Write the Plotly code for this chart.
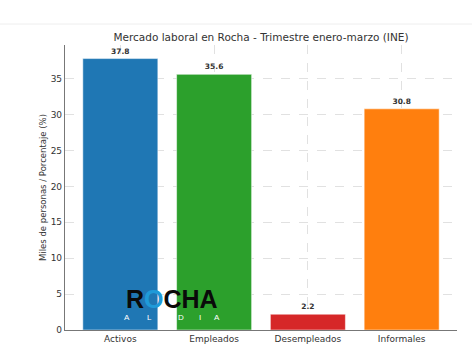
import plotly.graph_objects as go

categories = ["Activos", "Empleados", "Desempleados", "Informales"]
values = [37.8, 35.6, 2.2, 30.8]
colors = ["#1f77b4", "#2ca02c", "#d62728", "#ff7f0e"]
value_labels = [f"{v:.1f}" for v in values]
title_text = "Mercado laboral en Rocha - Trimestre enero-marzo (INE)"
y_title = "Miles de personas / Porcentaje (%)"
y_ticks = [0, 5, 10, 15, 20, 25, 30, 35]
logo_sub_letters = ["A", "L", "D", "I", "A"]

FONT = "DejaVu Sans"
L, R, T, B = 65, 15, 45, 21
PW, PH = 472 - L - R, 351 - T - B

fig = go.Figure()
fig.add_trace(go.Bar(
    x=list(range(len(categories))), y=values,
    marker=dict(color=colors, line=dict(color="rgba(255,255,255,0.5)", width=1)),
    width=0.8,
    text=value_labels, textposition="outside",
    textfont=dict(family=FONT, size=7.5, color="#333333", weight="bold"),
    cliponaxis=False,
))

grid_col = "rgba(200,200,200,0.55)"
fig.update_layout(
    width=472, height=351,
    margin=dict(l=L, r=R, t=T, b=B),
    paper_bgcolor="white", plot_bgcolor="white",
    showlegend=False,
    font=dict(family=FONT, color="#333333"),
    title=dict(text=title_text, x=(L + 472 - R) / 2 / 472, xanchor="center",
               y=1 - 37 / 351, yanchor="middle",
               font=dict(family=FONT, size=10.5, color="#333333")),
    xaxis=dict(
        range=[-0.59, 3.59], tickmode="array",
        tickvals=list(range(len(categories))), ticktext=categories,
        tickfont=dict(size=9, color="#333333"),
        showline=True, linecolor="#777777", linewidth=1.2,
        showgrid=True, gridcolor=grid_col, griddash="dash", gridwidth=0.8,
        ticks="", zeroline=False, automargin=False,
    ),
    yaxis=dict(
        range=[0, 39.69], tickmode="array", tickvals=y_ticks,
        tickfont=dict(size=9, color="#333333"),
        title=dict(text=y_title, font=dict(size=8.5, color="#333333"), standoff=2),
        showline=True, linecolor="#777777", linewidth=1.2,
        showgrid=True, gridcolor=grid_col, griddash="dash", gridwidth=0.8,
        ticks="", zeroline=False, automargin=False,
    ),
)

# faint page border line at top
fig.add_shape(type="line", xref="paper", yref="paper", x0=-L / PW, x1=1 + R / PW,
              y0=1 + (T - 24) / PH, y1=1 + (T - 24) / PH,
              line=dict(color="#eeeeee", width=1))

# Watermark logo "ROCHA AL DIA"
fig.add_annotation(x=(172 - L) / PW, y=(330 - 298.5) / PH, xref="paper", yref="paper",
                   xanchor="center", yanchor="middle", showarrow=False,
                   text="R<span style='color:#1f9ad8'>O</span>CHA",
                   font=dict(family="Liberation Sans", size=25, color="#0a0a0a", weight="bold"))
sub_px = [127, 149, 181, 200, 217]
for letter, px in zip(logo_sub_letters, sub_px):
    fig.add_annotation(x=(px - L) / PW, y=(330 - 317.5) / PH, xref="paper", yref="paper",
                       xanchor="center", yanchor="middle",
                       showarrow=False, text=letter,
                       font=dict(family="Liberation Sans", size=8, color="white"))

fig.write_html("out.html")
